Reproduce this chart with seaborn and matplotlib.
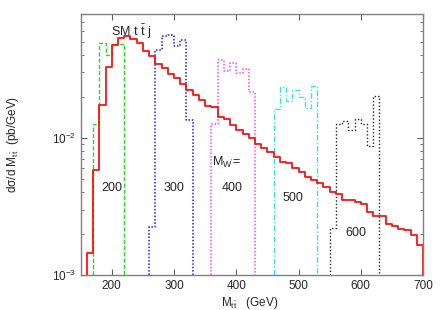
import numpy as np
import pandas as pd
import matplotlib
matplotlib.use("Agg")
import matplotlib.pyplot as plt
import seaborn as sns

# SM t tbar j distribution, 10 GeV bins from 160 to 700 GeV
sm_start = 160
sm_vals = [0.00144, 0.00582, 0.0173, 0.0329, 0.0479, 0.0535, 0.0556, 0.0526, 0.0494, 0.0430,
           0.0393, 0.0348, 0.0323, 0.0294, 0.0275, 0.0246, 0.0225, 0.0205, 0.0188, 0.0170,
           0.0168, 0.0141, 0.0138, 0.0124, 0.0114, 0.0106, 0.0100, 0.0090, 0.0084, 0.0079,
           0.0073, 0.0067, 0.0065, 0.0060, 0.0056, 0.0052, 0.0049, 0.0047, 0.0044, 0.0040,
           0.0039, 0.0035, 0.0035, 0.0034, 0.0033, 0.0029, 0.0027, 0.0027, 0.00235, 0.00229,
           0.00215, 0.00211, 0.00196, 0.00165]

# W' signal histograms (first bin edge, bin contents)
w200_start = 170
w200_vals = [0.0127, 0.049, 0.040, 0.048, 0.048]
w300_start = 260
w300_vals = [0.00225, 0.044, 0.055, 0.056, 0.0465, 0.052, 0.0135]
w400_start = 360
w400_vals = [0.0126, 0.0372, 0.0305, 0.0351, 0.0297, 0.032, 0.0216]
w500_start = 460
w500_vals = [0.0161, 0.0233, 0.0186, 0.0225, 0.0197, 0.0164, 0.0238]
w600_start = 550
w600_vals = [0.00219, 0.0127, 0.0133, 0.0114, 0.0138, 0.0127, 0.0087, 0.0203]

BIN = 10
YMIN, YMAX = 1e-3, 0.08


def step_frame(start, vals):
    edges = start + BIN * np.arange(len(vals) + 1)
    x = np.concatenate([[edges[0]], edges, [edges[-1]]])
    y = np.concatenate([[YMIN], vals, [vals[-1], YMIN]])
    return pd.DataFrame({"x": x, "y": y})


sns.set_style("ticks")
plt.rcParams["font.family"] = ["Liberation Sans", "DejaVu Sans"]
plt.rcParams["mathtext.fontset"] = "custom"
plt.rcParams["mathtext.rm"] = "Liberation Sans"
plt.rcParams["mathtext.it"] = "Liberation Sans"

fig = plt.figure(figsize=(4.43, 3.10), dpi=100)
ax = fig.add_axes([0.182, 0.113, 0.773, 0.842])

curves = [
    (w200_start, w200_vals, "#22dd22", (0, (3, 1.5)), 1.0),
    (w300_start, w300_vals, "#1a1aff", (0, (1, 1.2)), 1.1),
    (w400_start, w400_vals, "#ff44ff", (0, (1, 1.2)), 1.1),
    (w500_start, w500_vals, "#33e6e6", (0, (4, 1.5, 1, 1.5)), 1.0),
    (w600_start, w600_vals, "#222222", (0, (1, 1.5)), 1.0),
]
for start, vals, col, ls, lw in curves:
    d = step_frame(start, vals)
    sns.lineplot(data=d, x="x", y="y", estimator=None, sort=False,
                 drawstyle="steps-post", color=col, linestyle=ls, lw=lw, ax=ax)

d = step_frame(sm_start, sm_vals)
sns.lineplot(data=d, x="x", y="y", estimator=None, sort=False,
             drawstyle="steps-post", color="#ff1010", lw=1.3, ax=ax)

ax.set_yscale("log")
ax.set_xlim(150, 700)
ax.set_ylim(YMIN, YMAX)
ax.set_xticks([200, 300, 400, 500, 600, 700])

for s in ax.spines.values():
    s.set_color("#808080")
    s.set_linewidth(1.0)
ax.tick_params(which="both", direction="in", top=True, right=True,
               labelsize=8.5, color="#606060")
ax.tick_params(which="major", length=4)
ax.tick_params(which="minor", length=2.5)

ax.set_xlabel(r"M$_{\mathrm{t\bar{t}}}$   (GeV)", fontsize=8.5)
ax.set_ylabel(r"d$\sigma$/d M$_{\mathrm{t\bar{t}}}$  (pb/GeV)", fontsize=8.5)
ax.yaxis.set_label_coords(-0.175, 0.5)
ax.xaxis.set_label_coords(0.494, -0.075)

txt = dict(fontsize=9, ha="center", va="center")
ax.text(231, 0.059, r"SM t $\mathrm{\bar{t}}$ j", **txt)
ax.text(200, 0.0043, "200", **txt)
ax.text(300, 0.0043, "300", **txt)
ax.text(393, 0.0043, "400", **txt)
ax.text(385, 0.0066, r"M$_{\mathrm{W'}}$=", **txt)
ax.text(491, 0.00364, "500", **txt)
ax.text(592, 0.00202, "600", **txt)

fig.savefig("out.png", dpi=100)
